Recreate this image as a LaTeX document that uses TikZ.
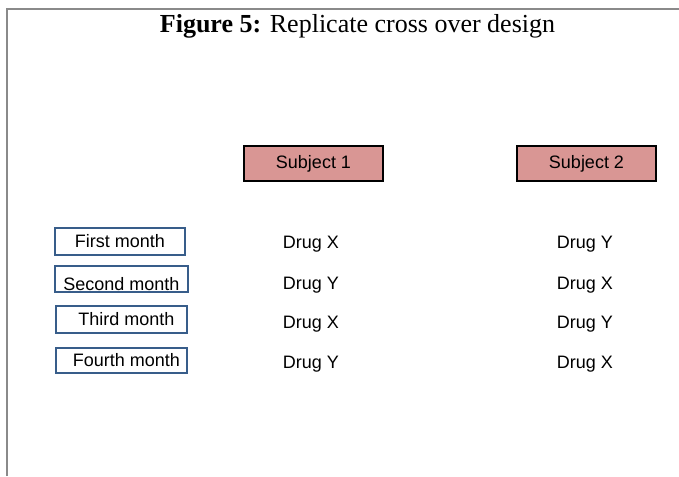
\documentclass[tikz,border=0pt]{standalone}
\usepackage{fontspec}
\setmainfont{Liberation Serif}
\newfontfamily\arialfont{Liberation Sans}
\usepackage{tikz}
\usetikzlibrary{positioning}
\definecolor{subjfill}{HTML}{D99694}
\definecolor{monthblue}{HTML}{385D8A}
\definecolor{framegray}{HTML}{8A8A8A}
\tikzset{
  subjbox/.style={draw=black,fill=subjfill,line width=1.5pt,minimum width=104pt,minimum height=26pt,inner sep=0pt,font=\arialfont\fontsize{13.5}{15}\selectfont},
  monthbox/.style={draw=monthblue,line width=1.5pt,minimum height=20pt,inner sep=0pt,font=\arialfont\fontsize{13.5}{15}\selectfont},
  druglabel/.style={anchor=base,inner sep=0pt,font=\arialfont\fontsize{13.5}{15}\selectfont}
}

\begin{document}
\begin{tikzpicture}[x=0.75pt,y=-0.75pt]
\useasboundingbox (0,0) rectangle (679,476);

% Frame
\draw[framegray,line width=1.5pt] (7,476) -- (7,9) -- (679,9);

% Title
\node[anchor=base,inner sep=0pt,font=\fontsize{19.5}{22}\selectfont] (title) at (357.5,32) {\textbf{Figure 5:} Replicate cross over design};

% Subjects
\node[subjbox] (subj1) at (313.5,163.5) {Subject 1};
\node[subjbox] (subj2) at (586.5,163.5) {Subject 2};

% Months
\node[monthbox,minimum width=97.5pt] (month1) at (120,241.5) {First month};
\node[monthbox,minimum width=99.75pt,minimum height=19.5pt] (month2) at (121.5,279) {\vphantom{Second month}\smash{\raisebox{-3.5pt}{Second month}}};
\node[monthbox,minimum width=98.25pt] (month3) at (121.5,319.5) {\hspace{7.5pt}Third month};
\node[monthbox,minimum width=98.25pt,minimum height=18.75pt] (month4) at (121.5,360.5) {\hspace{7.5pt}Fourth month};

% Treatments
\node[druglabel] (x1) at (311,248) {Drug X};
\node[druglabel] (y1) at (311,289.5) {Drug Y};
\node[druglabel] (x2) at (311,328.5) {Drug X};
\node[druglabel] (y2) at (311,368.5) {Drug Y};

\node[druglabel] (y3) at (585,248) {Drug Y};
\node[druglabel] (x3) at (585,289.5) {Drug X};
\node[druglabel] (y4) at (585,328.5) {Drug Y};
\node[druglabel] (x4) at (585,368.5) {Drug X};

\end{tikzpicture}
\end{document}
